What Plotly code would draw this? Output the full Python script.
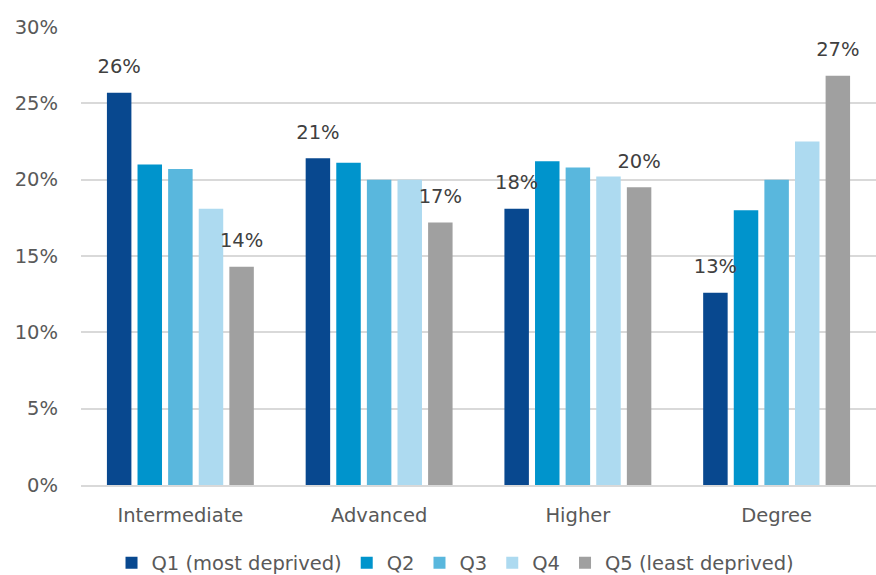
import plotly.graph_objects as go

# Share of each qualification level, by deprivation quintile (%)
categories = ["Intermediate", "Advanced", "Higher", "Degree"]
series_names = ["Q1 (most deprived)", "Q2", "Q3", "Q4", "Q5 (least deprived)"]
q1 = [25.7, 21.4, 18.1, 12.6]
q2 = [21.0, 21.1, 21.2, 18.0]
q3 = [20.7, 20.0, 20.8, 20.0]
q4 = [18.1, 20.0, 20.2, 22.5]
q5 = [14.3, 17.2, 19.5, 26.8]
series_values = [q1, q2, q3, q4, q5]
colors = ["#08488F", "#0094CC", "#59B7DD", "#ADDAF0", "#A0A0A0"]
labelled = [True, False, False, False, True]  # only the extreme quintiles carry labels
y_ticks = [0, 5, 10, 15, 20, 25, 30]

FONT = "DejaVu Sans"
SIZE = 19.5
GAP = 0.23

fig = go.Figure()
for name, vals, col in zip(series_names, series_values, colors):
    fig.add_trace(go.Bar(
        x=categories,
        y=vals,
        name=name,
        marker=dict(color=col, line=dict(width=0)),
        hoverinfo="skip",
    ))

# value labels sit a little above the bar tops, grouped like the bars
for i, (vals, lab) in enumerate(zip(series_values, labelled)):
    fig.add_trace(go.Scatter(
        x=categories,
        y=vals,
        mode="markers+text",
        text=[f"{int(v + 0.5)}%" for v in vals] if lab else [""] * len(vals),
        textposition="top center",
        textfont=dict(family=FONT, size=SIZE, color="#404040"),
        marker=dict(size=22, opacity=0),
        offsetgroup=f"lbl{i}",
        alignmentgroup="labels",
        showlegend=False,
        hoverinfo="skip",
        cliponaxis=False,
    ))

fig.update_layout(
    width=876,
    height=575,
    margin=dict(l=81, r=0, t=27, b=90, autoexpand=False),
    paper_bgcolor="white",
    plot_bgcolor="white",
    barmode="group",
    scattermode="group",
    bargap=GAP,
    scattergap=GAP,
    bargroupgap=0.2,
    font=dict(family=FONT, size=SIZE, color="#595959"),
    showlegend=True,
    legend=dict(
        orientation="h",
        xref="container", x=0.52, xanchor="center",
        yref="container", y=12 / 575, yanchor="middle",
        font=dict(family=FONT, size=SIZE, color="#595959"),
        itemwidth=30,
        traceorder="normal",
    ),
)

fig.update_xaxes(
    showgrid=False,
    showline=True,
    linecolor="#D9D9D9",
    linewidth=2,
    ticks="",
    ticklabelstandoff=12,
    tickfont=dict(family=FONT, size=SIZE, color="#595959"),
)
fig.update_yaxes(
    range=[0, 30],
    tickvals=y_ticks,
    ticktext=[f"{t}%" for t in y_ticks],
    showgrid=True,
    gridcolor="#D9D9D9",
    gridwidth=2,
    zeroline=False,
    ticks="",
    ticklabelstandoff=22,
    tickfont=dict(family=FONT, size=SIZE, color="#595959"),
)

fig.write_html("out.html")
